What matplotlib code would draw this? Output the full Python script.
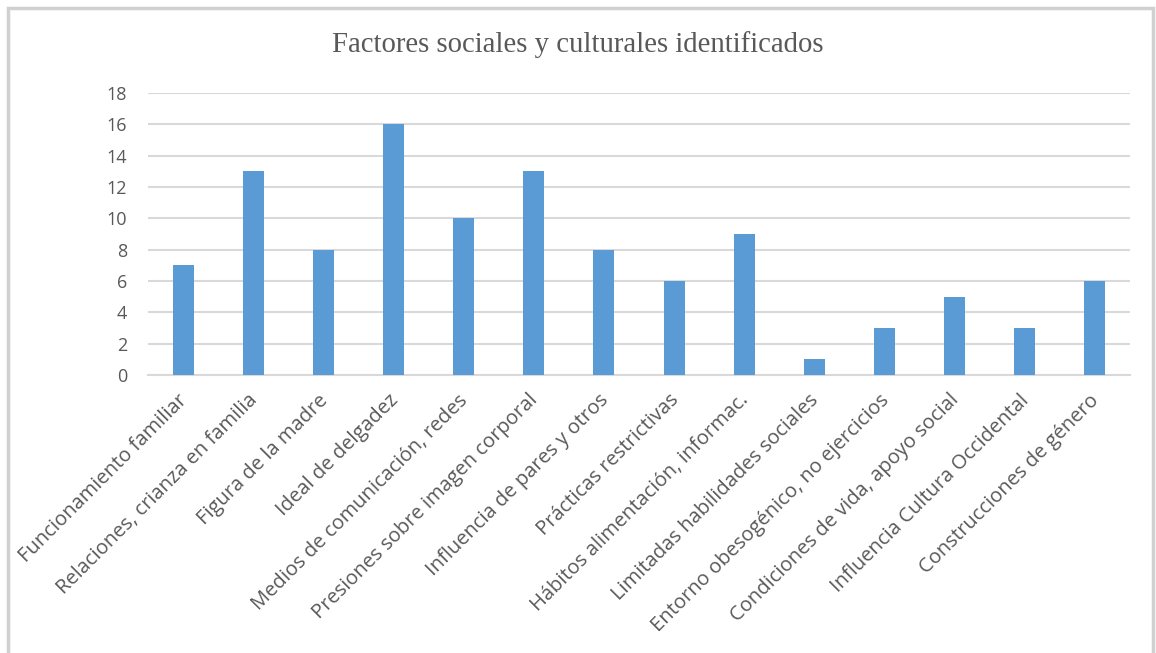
import matplotlib.pyplot as plt
from matplotlib.patches import Rectangle
from matplotlib.transforms import ScaledTranslation

categories = [
    'Funcionamiento familiar',
    'Relaciones, crianza en familia',
    'Figura de la madre',
    'Ideal de delgadez',
    'Medios de comunicación, redes',
    'Presiones sobre imagen corporal',
    'Influencia de pares y otros',
    'Prácticas restrictivas',
    'Hábitos alimentación, informac.',
    'Limitadas habilidades sociales',
    'Entorno obesogénico, no ejercicios',
    'Condiciones de vida, apoyo social',
    'Influencia Cultura Occidental',
    'Construcciones de género',
]
values = [7, 13, 8, 16, 10, 13, 8, 6, 9, 1, 3, 5, 3, 6]
y_ticks = list(range(0, 19, 2))

fig = plt.figure(figsize=(11.56, 6.53), dpi=100)
ax = fig.add_axes([0.128, 0.4257, 0.8495, 0.4319])

# outer frame around the chart
fig.patches.append(Rectangle((0.007, -0.01), 0.99, 0.998, transform=fig.transFigure,
                             fill=False, edgecolor='#d0d0d0', linewidth=2.5))

x = range(len(categories))
ax.bar(x, values, width=0.30, color='#5b9bd5', zorder=3)

ax.set_xlim(-0.5, len(categories) - 0.5)
ax.set_ylim(0, 18)
ax.set_yticks(y_ticks)
ax.set_yticklabels([str(t) for t in y_ticks], fontsize=13, color='#595959',
                   family='Open Sans')
ax.yaxis.grid(True, color='#d9d9d9', linewidth=1.5, zorder=0)
ax.set_axisbelow(True)
for side in ['top', 'right', 'left']:
    ax.spines[side].set_visible(False)
ax.spines['bottom'].set_color('#d9d9d9')
ax.spines['bottom'].set_linewidth(1.5)
ax.tick_params(axis='both', length=0)
ax.tick_params(axis='y', pad=15)

ax.set_xticks(list(x))
ax.set_xticklabels(categories, rotation=45, ha='right', va='top',
                   rotation_mode='anchor', fontsize=14.5, color='#595959',
                   family='Open Sans')
ax.tick_params(axis='x', pad=11)
# nudge the slanted labels a little to the left
shift = ScaledTranslation(-4 / 72, 0, fig.dpi_scale_trans)
for lbl in ax.get_xticklabels():
    lbl.set_transform(lbl.get_transform() + shift)

fig.text(0.5, 0.932, 'Factores sociales y culturales identificados', ha='center',
         va='center', fontsize=20.7, color='#595959', family='Liberation Serif')

fig.savefig('out.png', dpi=100)
